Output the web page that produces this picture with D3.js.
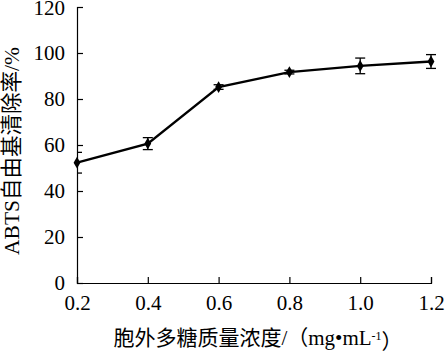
<!DOCTYPE html>
<html><head><meta charset="utf-8">
<script src="https://cdn.jsdelivr.net/npm/d3@7/dist/d3.min.js"></script>
<style>body{margin:0;background:#fff}svg{display:block}</style>
</head><body>
<svg id="c" width="445" height="354"></svg>
<script>
const concentrations = [0.2, 0.4, 0.6, 0.8, 1.0, 1.2];
const scavengingRate = [52.3, 60.6, 85.2, 91.7, 94.4, 96.3];
const errors = [4.5, 2.6, 1.0, 0.8, 3.4, 3.0];
const xTicks = [0.2, 0.4, 0.6, 0.8, 1.0, 1.2];
const yTicks = [0, 20, 40, 60, 80, 100, 120];
const xTitle = "胞外多糖质量浓度/（mg•mL";
const xTitleSup = "-1";
const xTitleEnd = "）";
const yTitle = "ABTS自由基清除率/%";

const svg = d3.select("#c");
const font = "'Liberation Serif','Times New Roman','Noto Sans CJK SC',serif";
const x = d3.scaleLinear().domain([0.2, 1.2]).range([77, 431]);
const y = d3.scaleLinear().domain([0, 120]).range([283, 7]);

svg.append("defs").append("clipPath").attr("id", "plot")
  .append("rect").attr("x", x(0.2)).attr("y", 0).attr("width", 445 - x(0.2)).attr("height", y(0));

const xAxis = svg.append("g").attr("transform", `translate(0,${y(0)})`)
  .call(d3.axisBottom(x).tickValues(xTicks).tickSize(-6).tickPadding(12).tickFormat(d3.format(".1f")));
const yAxis = svg.append("g").attr("transform", `translate(${x(0.2)},0)`)
  .call(d3.axisLeft(y).tickValues(yTicks).tickSize(-6).tickPadding(12).tickFormat(d3.format("d")));
[xAxis, yAxis].forEach(a => {
  a.select(".domain").attr("stroke", "#000").attr("stroke-width", 1.2);
  a.selectAll(".tick line").attr("stroke", "#000").attr("stroke-width", 1.2);
  a.selectAll(".tick text").attr("fill", "#000").style("font-family", font).style("font-size", "21px");
});
xAxis.selectAll(".tick text").attr("dy", "0.71em");
yAxis.selectAll(".tick text").filter(d => d === 120).attr("dy", "0.38em");

const data = concentrations.map((c, i) => ({c, v: scavengingRate[i], e: errors[i]}));

svg.append("path").datum(data)
  .attr("fill", "none").attr("stroke", "#000").attr("stroke-width", 2.4)
  .attr("d", d3.line().x(d => x(d.c)).y(d => y(d.v)));

const eb = svg.append("g").attr("stroke", "#000").attr("stroke-width", 1.3).attr("clip-path", "url(#plot)");
data.forEach(d => {
  const cx = x(d.c), hw = 5;
  eb.append("line").attr("x1", cx).attr("x2", cx).attr("y1", y(d.v + d.e)).attr("y2", y(d.v - d.e));
  eb.append("line").attr("x1", cx - hw).attr("x2", cx + hw).attr("y1", y(d.v + d.e)).attr("y2", y(d.v + d.e));
  eb.append("line").attr("x1", cx - hw).attr("x2", cx + hw).attr("y1", y(d.v - d.e)).attr("y2", y(d.v - d.e));
});

svg.append("g").selectAll("path").data(data).join("path")
  .attr("transform", d => `translate(${x(d.c)},${y(d.v)})`)
  .attr("d", d3.symbol(d3.symbolDiamond, 40))
  .attr("fill", "#000");

const xt = svg.append("text").attr("x", 258).attr("y", 345).attr("text-anchor", "middle")
  .style("font-family", font).style("font-size", "21px").attr("fill", "#000");
xt.append("tspan").text(xTitle);
xt.append("tspan").text(xTitleSup).attr("dy", "-0.45em").style("font-size", "12px");
xt.append("tspan").text(xTitleEnd).attr("dy", "0.45em").style("font-size", "21px");

svg.append("text").attr("transform", "translate(19,151) rotate(-90)").attr("text-anchor", "middle")
  .style("font-family", font).style("font-size", "21.5px").attr("fill", "#000").text(yTitle);
</script>
</body></html>
